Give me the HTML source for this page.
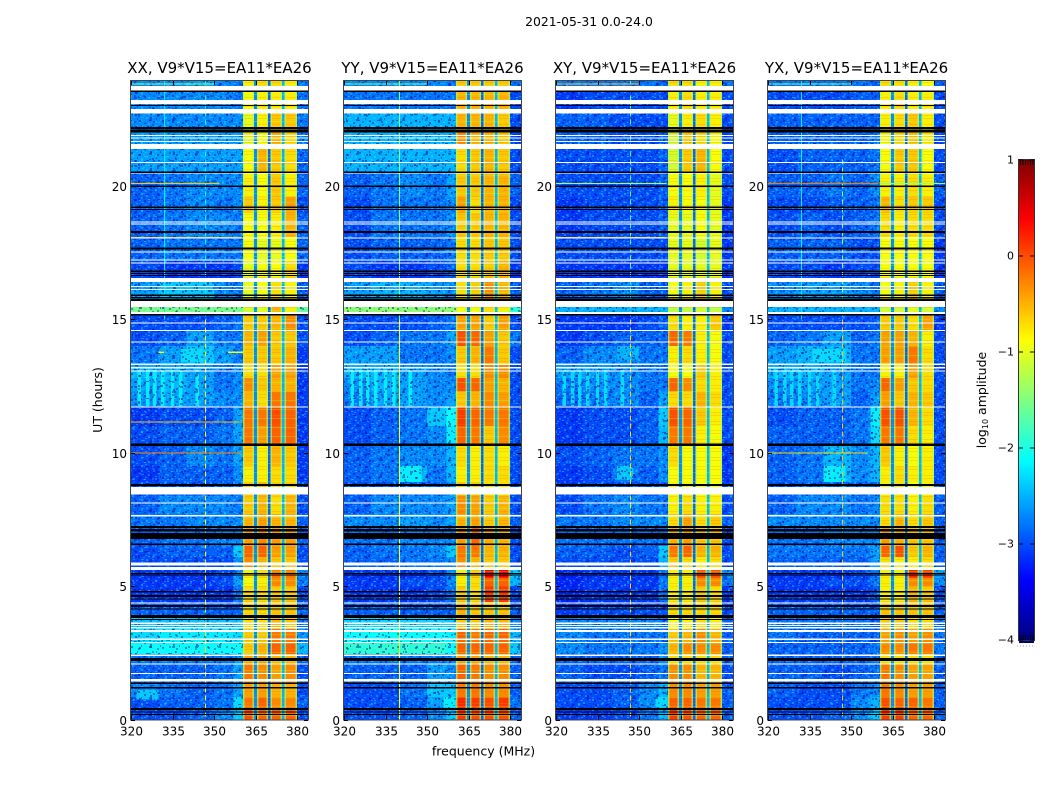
<!DOCTYPE html>
<html lang="en">
<head>
<meta charset="utf-8">
<title>2021-05-31 0.0-24.0</title>
<style>
html,body{margin:0;padding:0;background:#fff;}
svg{display:block;}
text{font-family:"DejaVu Sans","Liberation Sans",sans-serif;fill:#000;}
</style>
</head>
<body>
<svg id="figure" xmlns="http://www.w3.org/2000/svg" width="1050" height="800" viewBox="0 0 1050 800">
  <defs>
    <pattern id="speckle" width="23" height="17" patternUnits="userSpaceOnUse">
      <rect x="1" y="1" width="2" height="2" fill="#000a90" opacity=".55"/>
      <rect x="6" y="3" width="2" height="1" fill="#30e0ff" opacity=".55"/>
      <rect x="11" y="0" width="3" height="2" fill="#000a90" opacity=".45"/>
      <rect x="17" y="2" width="2" height="2" fill="#30e0ff" opacity=".4"/>
      <rect x="3" y="6" width="2" height="2" fill="#30e0ff" opacity=".45"/>
      <rect x="8" y="7" width="3" height="1" fill="#000a90" opacity=".55"/>
      <rect x="14" y="5" width="2" height="2" fill="#000a90" opacity=".4"/>
      <rect x="20" y="7" width="2" height="2" fill="#000a90" opacity=".55"/>
      <rect x="0" y="11" width="2" height="2" fill="#000a90" opacity=".5"/>
      <rect x="5" y="10" width="2" height="2" fill="#000a90" opacity=".35"/>
      <rect x="10" y="12" width="2" height="1" fill="#30e0ff" opacity=".55"/>
      <rect x="15" y="10" width="2" height="3" fill="#30e0ff" opacity=".3"/>
      <rect x="19" y="12" width="3" height="2" fill="#000a90" opacity=".45"/>
      <rect x="3" y="15" width="3" height="1" fill="#30e0ff" opacity=".4"/>
      <rect x="12" y="15" width="2" height="2" fill="#000a90" opacity=".5"/>
    </pattern>
    <pattern id="speckle-fine" width="19" height="13" patternUnits="userSpaceOnUse">
      <rect x="0" y="0" width="2" height="1" fill="#30e0ff" opacity=".35"/>
      <rect x="4" y="1" width="1" height="2" fill="#000a90" opacity=".45"/>
      <rect x="8" y="2" width="2" height="2" fill="#30e0ff" opacity=".3"/>
      <rect x="13" y="0" width="2" height="2" fill="#30e0ff" opacity=".4"/>
      <rect x="16" y="3" width="2" height="1" fill="#000a90" opacity=".45"/>
      <rect x="1" y="4" width="2" height="2" fill="#000a90" opacity=".4"/>
      <rect x="6" y="5" width="2" height="1" fill="#30e0ff" opacity=".45"/>
      <rect x="11" y="5" width="2" height="2" fill="#000a90" opacity=".45"/>
      <rect x="15" y="6" width="2" height="2" fill="#30e0ff" opacity=".35"/>
      <rect x="3" y="8" width="2" height="1" fill="#30e0ff" opacity=".4"/>
      <rect x="8" y="8" width="1" height="2" fill="#000a90" opacity=".5"/>
      <rect x="12" y="9" width="2" height="1" fill="#30e0ff" opacity=".4"/>
      <rect x="17" y="9" width="2" height="2" fill="#000a90" opacity=".4"/>
      <rect x="0" y="10" width="2" height="2" fill="#30e0ff" opacity=".3"/>
      <rect x="5" y="11" width="2" height="2" fill="#000a90" opacity=".4"/>
      <rect x="10" y="11" width="2" height="1" fill="#30e0ff" opacity=".35"/>
    </pattern>
    <pattern id="band-streak" width="4" height="9" patternUnits="userSpaceOnUse">
      <rect x="0" y="1" width="4" height="1" fill="#ff8000" opacity=".25"/>
      <rect x="0" y="4" width="4" height="1" fill="#c0ff40" opacity=".28"/>
      <rect x="0" y="7" width="4" height="1" fill="#ff5000" opacity=".18"/>
    </pattern>
  </defs>
  <text x="589" y="26" font-size="12.4" text-anchor="middle">2021-05-31 0.0-24.0</text>
  <text x="483.5" y="755.5" font-size="12.5" text-anchor="middle">frequency (MHz)</text>
  <text transform="translate(102,400) rotate(-90)" font-size="12.5" text-anchor="middle">UT (hours)</text>
  <text transform="translate(986,400) rotate(-90)" font-size="12.5" text-anchor="middle">log<tspan font-size="8" dy="2">10</tspan><tspan dy="-2"> amplitude</tspan></text>
  <g id="panels"></g>
  <g id="colorbar"></g>
</svg>
<script>
/* ---------- axis data ---------- */
const xTickValues = [320, 335, 350, 365, 380];
const yTickValues = [0, 5, 10, 15, 20];
const colorbarTickValues = [1, 0, -1, -2, -3, -4];
const colorMin = -4;
const colorMax = 1;
const panelTitles = ["XX, V9*V15=EA11*EA26", "YY, V9*V15=EA11*EA26", "XY, V9*V15=EA11*EA26", "YX, V9*V15=EA11*EA26"];

/* UT edges of the time blocks (hours) */
const rowEdges = [0,.45,.85,1.35,2.1,2.45,2.9,3.4,3.9,4.4,5,5.3,5.7,6.1,6.5,7.2,7.7,8.4,8.9,9.5,10.3,11,11.7,12.3,12.8,13.3,14,14.6,15.2,15.5,16.4,17.2,18.1,19,19.6,20.5,21.4,22.1,22.9,23.6,24];
/* frequency edges (MHz); narrow intervals are the spectral-window gaps */
const freqEdges = [320,330,340,350,357,360.5,364.5,365.5,369.5,370.5,374.5,375.5,380,384];
/* log10 amplitude x10 in the three gaps */
const gapLevels = [-27,-29,-25];
/* frequency ranges at spectral-window edges where the level rolls off */
const rolloffRanges = [[360.5,361],[364,364.5],[365.5,366],[369,369.5],[370.5,371],[374,374.5],[375.5,376],[379.5,380]];
const rolloffLevel = -13;

/* log10 amplitude x10: one row per time block, columns
   320-330, 330-340, 340-350, 350-357, 357-360.5, window 1-4, 380-384 */
const xxLevels = [
[-30,-30,-29,-27,-24,0,-1,-1,-1,-30],
[-30,-29,-29,-28,-23,-2,-1,-3,-3,-29],
[-27,-28,-29,-28,-26,-4,-4,-5,-5,-30],
[-29,-29,-29,-28,-26,-2,-3,-4,-3,-30],
[-28,-28,-28,-28,-26,-4,-4,-5,-5,-29],
[-21,-21,-21,-21,-21,-6,-5,-1,-1,-25],
[-23,-22,-22,-22,-23,-6,-6,-2,-2,-27],
[-24,-24,-24,-24,-24,-7,-7,-5,-6,-28],
[-29,-29,-29,-29,-29,-7,-7,-6,-6,-29],
[-31,-31,-31,-31,-28,-7,-7,-6,-6,-30],
[-31,-31,-31,-30,-26,-9,-8,-3,-3,-28],
[-31,-31,-31,-30,-27,-8,-7,-2,-2,-27],
[-30,-30,-30,-30,-27,-3,-5,-6,-6,-30],
[-30,-29,-29,-29,-24,-1,-1,-4,-4,-30],
[-29,-28,-28,-27,-27,-4,-3,-4,-4,-29],
[-28,-28,-27,-27,-27,-5,-4,-5,-5,-29],
[-29,-27,-27,-27,-28,-6,-5,-7,-5,-30],
[-30,-30,-30,-29,-28,-6,-5,-6,-6,-30],
[-31,-29,-29,-29,-27,-8,-8,-7,-7,-31],
[-30,-29,-27,-28,-26,-6,-8,-5,-6,-31],
[-30,-29,-29,-28,-26,-2,-4,-1,-1,-31],
[-31,-30,-30,-29,-26,-2,-2,0,-1,-31],
[-27,-26,-26,-27,-27,-5,-7,-2,-2,-31],
[-26,-25,-26,-28,-27,-3,-6,-5,-5,-31],
[-25,-25,-26,-28,-27,-7,-7,-4,-4,-31],
[-28,-26,-24,-26,-28,-6,-6,-6,-5,-31],
[-30,-29,-26,-28,-28,-5,-4,-6,-6,-30],
[-30,-30,-30,-29,-28,-6,-6,-5,-3,-30],
[-15,-15,-15,-15,-15,-11,-10,-5,-8,-16],
[-26,-24,-24,-27,-28,-10,-9,-7,-8,-29],
[-30,-31,-31,-31,-30,-10,-9,-9,-7,-31],
[-29,-28,-28,-28,-28,-9,-10,-10,-9,-29],
[-29,-28,-27,-27,-28,-9,-9,-8,-5,-29],
[-29,-28,-27,-28,-27,-6,-8,-6,-4,-30],
[-29,-28,-27,-27,-27,-8,-9,-6,-8,-29],
[-26,-26,-26,-26,-26,-9,-5,-6,-7,-29],
[-26,-26,-26,-26,-26,-10,-9,-5,-7,-28],
[-27,-27,-27,-27,-27,-10,-8,-6,-6,-28],
[-27,-27,-27,-27,-28,-9,-8,-8,-8,-28],
[-27,-27,-26,-27,-28,-8,-7,-7,-8,-28]
];
const yyLevels = [
[-30,-30,-29,-27,-24,1,0,0,0,-29],
[-30,-30,-29,-26,-22,2,1,0,1,-28],
[-30,-30,-28,-24,-24,-2,-2,-3,-3,-29],
[-29,-29,-29,-26,-27,-1,-2,-3,-3,-29],
[-28,-28,-28,-28,-27,-4,-4,-5,-5,-29],
[-19,-19,-19,-19,-21,-1,-1,-1,-1,-24],
[-21,-21,-21,-21,-22,-1,-2,-1,-1,-25],
[-23,-23,-23,-23,-24,-6,-6,-5,-5,-27],
[-29,-29,-29,-29,-29,-5,-6,-6,-6,-29],
[-31,-31,-31,-30,-28,-6,-7,1,1,-30],
[-31,-31,-30,-30,-27,-8,-7,-1,-1,-25],
[-31,-31,-31,-30,-27,-8,-6,4,4,-24],
[-29,-29,-28,-28,-27,-3,-5,-6,-6,-30],
[-29,-28,-28,-27,-24,-2,-2,-5,-5,-30],
[-28,-28,-27,-27,-27,-4,-1,-5,-5,-30],
[-27,-27,-26,-27,-26,-5,-4,-6,-5,-29],
[-29,-27,-27,-27,-26,-3,-4,-6,-5,-30],
[-30,-30,-29,-29,-27,-6,-6,-7,-7,-30],
[-29,-28,-25,-28,-25,-8,-8,-7,-7,-30],
[-29,-28,-27,-27,-25,-7,-8,-7,-8,-30],
[-30,-29,-28,-27,-22,-1,-2,-6,-3,-30],
[-30,-29,-28,-24,-21,1,-1,-2,-2,-30],
[-28,-26,-26,-27,-26,-6,-5,-3,-4,-30],
[-27,-25,-26,-27,-27,0,-1,-4,-5,-30],
[-25,-25,-26,-27,-28,-7,-7,-3,-3,-30],
[-26,-26,-28,-28,-27,-6,-5,-2,-6,-30],
[-30,-29,-28,-28,-26,0,-1,-4,-6,-28],
[-30,-30,-30,-29,-28,-4,-4,-6,-4,-30],
[-14,-14,-14,-14,-14,-9,-9,-7,-8,-19],
[-26,-25,-25,-26,-27,-7,-6,-3,-5,-29],
[-30,-31,-31,-30,-29,-7,-7,-6,-5,-31],
[-30,-29,-29,-29,-28,-7,-7,-6,-6,-30],
[-30,-28,-28,-28,-27,-6,-6,-5,-5,-30],
[-30,-28,-28,-28,-27,-4,-7,-5,-5,-30],
[-29,-28,-27,-28,-26,-6,-6,-5,-5,-29],
[-25,-25,-25,-25,-25,-7,-6,-5,-6,-30],
[-25,-25,-25,-25,-25,-3,-5,-5,-6,-30],
[-25,-25,-25,-25,-25,-5,-5,-5,-6,-30],
[-28,-28,-28,-28,-28,-5,-5,-5,-5,-30],
[-27,-27,-27,-27,-28,-6,-6,-6,-6,-28]
];
const xyLevels = [
[-31,-31,-30,-28,-25,1,0,-1,-1,-29],
[-30,-30,-29,-27,-24,-1,-1,-2,-2,-29],
[-30,-30,-29,-27,-25,-3,-3,-4,-4,-29],
[-29,-30,-30,-29,-28,-3,-3,-5,-5,-30],
[-29,-29,-29,-29,-27,-7,-7,-7,-7,-29],
[-27,-28,-28,-28,-27,-5,-3,-3,-3,-29],
[-27,-28,-28,-28,-28,-6,-5,-3,-5,-29],
[-27,-27,-27,-27,-28,-9,-8,-7,-8,-29],
[-31,-30,-30,-30,-30,-7,-7,-7,-7,-30],
[-32,-31,-31,-31,-28,-8,-8,-6,-7,-31],
[-32,-31,-31,-31,-28,-8,-8,-3,-3,-28],
[-32,-31,-31,-31,-28,-8,-8,0,0,-27],
[-30,-30,-30,-30,-25,-6,-7,-8,-7,-30],
[-29,-29,-30,-29,-24,-2,-1,-5,-5,-30],
[-28,-28,-28,-28,-28,-5,-4,-6,-6,-30],
[-28,-28,-27,-27,-27,-7,-4,-7,-6,-29],
[-30,-28,-27,-28,-28,-8,-7,-8,-8,-30],
[-31,-30,-30,-30,-29,-8,-8,-9,-9,-30],
[-31,-30,-28,-29,-27,-9,-9,-9,-9,-31],
[-30,-29,-28,-28,-27,-7,-9,-9,-9,-31],
[-31,-30,-30,-29,-25,-2,-2,-8,-9,-30],
[-31,-30,-30,-29,-24,0,-1,-6,-8,-30],
[-29,-28,-27,-29,-26,-7,-7,-5,-7,-30],
[-28,-27,-27,-28,-28,-1,-3,-7,-8,-30],
[-26,-26,-27,-28,-28,-9,-9,-6,-8,-30],
[-29,-27,-27,-28,-28,-8,-7,-8,-9,-30],
[-31,-30,-29,-29,-29,-1,-2,-8,-9,-30],
[-31,-31,-31,-30,-29,-7,-8,-8,-6,-31],
[-25,-25,-25,-25,-25,-12,-12,-11,-12,-27],
[-29,-28,-27,-29,-29,-9,-8,-6,-8,-30],
[-31,-31,-31,-31,-31,-10,-10,-10,-10,-31],
[-30,-30,-30,-30,-30,-10,-10,-11,-10,-31],
[-31,-30,-30,-30,-29,-10,-10,-9,-10,-31],
[-31,-30,-30,-30,-29,-8,-9,-9,-10,-31],
[-30,-30,-30,-30,-29,-9,-9,-8,-10,-30],
[-30,-30,-30,-30,-29,-11,-6,-5,-9,-30],
[-29,-29,-30,-30,-29,-11,-6,-7,-9,-30],
[-29,-29,-30,-30,-30,-10,-8,-7,-8,-30],
[-31,-30,-30,-30,-30,-8,-7,-8,-8,-30],
[-28,-28,-28,-28,-29,-7,-7,-8,-8,-28]
];
const yxLevels = [
[-30,-30,-29,-27,-24,1,1,-1,-1,-29],
[-30,-30,-30,-27,-25,0,-1,-1,-2,-29],
[-29,-30,-30,-28,-27,-2,-3,-4,-4,-29],
[-29,-29,-30,-29,-28,-2,-3,-4,-4,-29],
[-29,-29,-29,-29,-28,-7,-7,-7,-7,-29],
[-29,-29,-29,-29,-28,-3,-3,-2,-2,-28],
[-28,-29,-29,-29,-29,-4,-3,-4,-3,-28],
[-28,-28,-28,-28,-29,-6,-6,-7,-7,-28],
[-29,-29,-29,-29,-29,-6,-6,-6,-6,-29],
[-31,-31,-31,-31,-29,-8,-8,-5,-6,-30],
[-31,-31,-30,-30,-28,-8,-8,-3,-3,-27],
[-31,-31,-31,-30,-28,-8,-8,2,1,-26],
[-29,-29,-29,-29,-26,-7,-8,-8,-7,-29],
[-28,-28,-28,-28,-26,-1,0,-6,-5,-29],
[-28,-28,-27,-27,-27,-4,-5,-6,-6,-29],
[-27,-27,-27,-27,-27,-7,-5,-7,-6,-29],
[-29,-27,-27,-28,-27,-7,-7,-8,-7,-29],
[-30,-29,-29,-29,-29,-8,-7,-9,-8,-30],
[-29,-28,-25,-27,-25,-8,-7,-8,-8,-30],
[-29,-28,-25,-27,-25,-6,-8,-9,-8,-30],
[-29,-29,-29,-28,-23,-2,-2,-7,-8,-30],
[-30,-29,-29,-28,-22,0,0,-5,-7,-30],
[-28,-27,-26,-29,-26,-4,-6,-5,-6,-30],
[-27,-26,-26,-28,-27,-1,-4,-6,-7,-30],
[-25,-25,-26,-28,-28,-8,-8,-4,-7,-30],
[-26,-25,-25,-28,-28,-4,-4,-2,-7,-30],
[-29,-28,-26,-29,-28,-4,-4,-5,-8,-30],
[-30,-30,-30,-30,-29,-6,-6,-7,-4,-31],
[-25,-25,-25,-25,-25,-11,-11,-10,-11,-27],
[-27,-26,-26,-27,-28,-9,-8,-6,-8,-29],
[-30,-30,-31,-30,-30,-9,-9,-9,-9,-31],
[-29,-29,-29,-30,-30,-9,-9,-9,-9,-31],
[-30,-29,-30,-29,-28,-7,-8,-7,-7,-30],
[-30,-30,-29,-29,-28,-5,-7,-6,-6,-30],
[-29,-29,-28,-29,-27,-8,-8,-7,-8,-29],
[-30,-29,-29,-29,-28,-9,-6,-6,-9,-30],
[-29,-29,-29,-29,-28,-9,-7,-6,-8,-30],
[-29,-29,-29,-29,-29,-8,-7,-6,-8,-30],
[-30,-30,-30,-29,-29,-8,-7,-8,-8,-30],
[-28,-28,-28,-28,-29,-7,-7,-8,-9,-29]
];
const panelLevels = [xxLevels, yyLevels, xyLevels, yxLevels];

/* flagged time ranges, UT hours */
const whiteFlags = [[23.58,23.76],[23.07,23.23],[22.73,22.90],[21.88,21.92],[21.78,21.82],[21.66,21.69],[21.40,21.58],[20.87,20.91],[20.45,20.48],[18.63,18.67],[18.56,18.60],[18.04,18.08],[17.51,17.55],[17.21,17.25],[17.10,17.14],[16.40,16.55],[16.21,16.25],[16.11,16.15],[15.46,15.70],[15.20,15.28],[14.84,14.88],[14.56,14.60],[14.13,14.17],[13.30,13.34],[13.17,13.21],[13.04,13.08],[11.70,11.74],[8.44,8.71],[8.09,8.13],[7.62,7.66],[5.77,5.89],[5.61,5.71],[4.35,4.39],[3.59,3.63],[3.50,3.54],[3.42,3.46],[3.29,3.36],[2.99,3.03],[2.86,2.90],[2.39,2.43],[2.06,2.10],[1.70,1.74],[1.43,1.52]];
const blackFlags = [[23.53,23.58],[23.0,23.05],[22.13,22.22],[22.01,22.10],[20.49,20.54],[19.96,20.02],[19.18,19.23],[19.10,19.14],[18.25,18.31],[17.63,17.69],[16.78,16.84],[16.70,16.75],[16.62,16.67],[15.87,15.93],[15.80,15.85],[15.70,15.78],[15.15,15.20],[10.26,10.34],[8.76,8.83],[7.18,7.26],[7.05,7.14],[6.77,6.99],[6.55,6.60],[5.46,5.50],[5.40,5.44],[4.76,4.82],[4.59,4.67],[4.50,4.54],[4.22,4.29],[4.13,4.17],[3.81,3.92],[3.73,3.77],[2.20,2.31],[1.33,1.38],[1.16,1.21],[.36,.43],[.26,.30],[.16,.20]];

/* brighter patches: panel, ut0, ut1, f0, f1, level x10 */
const emissionPatches = [
[1,8.9,9.5,340,348,-22],[3,8.9,9.5,340,348,-22],[2,9,9.5,342,348,-24],
[0,.75,1.1,322,330,-24],[1,.45,.85,356,360.5,-22],[2,.45,.85,356,360.5,-23],
[0,13.4,13.9,338,346,-23],[2,13.5,14,342,350,-25],[3,13.4,13.9,336,348,-23]
];
/* vertical fringes in 11.75-13.1 UT: centre frequency (MHz) and per-panel level x10 */
const fringeFreqs = [323,326,328.6,331.5,335,338,344];
const fringeLevels = [-22,-22,-23,-23];
const fringeStartUT = 11.75;
const fringeEndUT = 13.1;

/* bad channels: panel, freq, ut0, ut1, level x10, dashed(1/0) */
const channelLines = [
[0,346.9,0,15,-8,1],[0,346.9,15,24,-21,1],[0,332,15,24,-22,0],
[1,339.9,0,15,-9,0],[1,339.9,15,24,-15,0],
[2,346.7,0,15,-7,1],[2,346.7,15,24,-17,1],
[3,346.9,0,15,-6,1],[3,346.9,15,21,-14,1],[3,332,15,24,-22,0]
];
/* narrow-band hot time samples: panel, ut, f0, f1, level x10 */
const hotLines = [
[0,23.83,320,350,-13],[0,20.1,320,352,-6],[0,18.07,320,360,-5],[0,11.15,320,360,-6],[0,10,320,360,-3],[0,13.77,355,360.5,-9],[0,13.77,330,332,-9],
[1,23.83,320,350,-15],
[2,23.83,320,350,-6],[2,20.1,320,360,-13],[2,18.07,320,360,-6],
[3,23.83,320,350,-15],[3,20.1,320,360,-2],[3,20.1,360.5,384,-14],[3,10,320,356,-7]
];

/* ---------- scales ---------- */
const panelLefts = [131, 344, 556, 768];
const panelWidth = 177;
const panelTop = 81;
const panelBottom = 719.5;
const SVG_NS = "http://www.w3.org/2000/svg";
function xScale(p, f) { return panelLefts[p] + (f - 320) * 2.767; }
function yScale(ut) { return panelBottom - ut * 26.67; }
function cbarY(v) { return 160 + (colorMax - v) * 96; }
function clip01(v) { return Math.max(0, Math.min(1, v)); }
function jet(v) {
  const t = clip01((v - colorMin) / (colorMax - colorMin));
  const r = clip01(1.5 - Math.abs(4 * t - 3));
  const g = clip01(1.5 - Math.abs(4 * t - 2));
  const b = clip01(1.5 - Math.abs(4 * t - 1));
  return "rgb(" + Math.round(r * 255) + "," + Math.round(g * 255) + "," + Math.round(b * 255) + ")";
}
function make(tag, parent, attrs) {
  const el = document.createElementNS(SVG_NS, tag);
  for (const k in attrs) el.setAttribute(k, attrs[k]);
  parent.appendChild(el);
  return el;
}
function box(parent, x0, x1, y0, y1, fill) {
  return make("rect", parent, { x: x0, y: y0, width: x1 - x0, height: y1 - y0, fill: fill, "shape-rendering": "crispEdges" });
}

/* ---------- panels ---------- */
const panelsRoot = document.getElementById("panels");
const columnSource = [0, 1, 2, 3, 4, 5, "g0", 6, "g1", 7, "g2", 8, 9];

panelTitles.forEach(function (title, p) {
  const g = make("g", panelsRoot, {});
  
  

  const clip = make("clipPath", g, { id: "clip" + p });
  make("rect", clip, { x: panelLefts[p], y: panelTop, width: panelWidth, height: panelBottom - panelTop });
  const plot = make("g", g, { "clip-path": "url(#clip" + p + ")" });

  const levels = panelLevels[p];
  rowEdges.slice(0, -1).forEach(function (ut0, r) {
    const ut1 = rowEdges[r + 1];
    columnSource.forEach(function (src, c) {
      const v = typeof src === "number" ? levels[r][src] : gapLevels[+String(src).slice(1)];
      const cell = box(plot, xScale(p, freqEdges[c]), xScale(p, freqEdges[c + 1]), yScale(ut1), yScale(ut0), jet(v / 10));
      
      
    });
  });

  const streak = box(plot, xScale(p, 360.5), xScale(p, 380), panelTop, panelBottom, "url(#band-streak)");
  
  

  rolloffRanges.forEach(function (rng) {
    const edge = box(plot, xScale(p, rng[0]), xScale(p, rng[1]), panelTop, panelBottom, jet(rolloffLevel / 10));
    edge.setAttribute('opacity', '0.7');
    
    
  });

  fringeFreqs.forEach(function (f) {
    const s = box(plot, xScale(p, f - .6), xScale(p, f + .6), yScale(fringeEndUT), yScale(fringeStartUT), jet(fringeLevels[p] / 10));
    
    
  });

  emissionPatches.filter(function (e) { return e[0] === p; }).forEach(function (e) {
    const patch = box(plot, xScale(p, e[3]), xScale(p, e[4]), yScale(e[2]), yScale(e[1]), jet(e[5] / 10));
    
    
  });

  ["speckle", "speckle-fine"].forEach(function (patternId) {
    const tex1 = box(plot, xScale(p, 320), xScale(p, 360.5), panelTop, panelBottom, "url(#" + patternId + ")");
    
    
    const tex2 = box(plot, xScale(p, 380), xScale(p, 384), panelTop, panelBottom, "url(#" + patternId + ")");
    
    
  });

  channelLines.filter(function (l) { return l[0] === p; }).forEach(function (l) {
    const ln = make("line", plot, {
      x1: Math.round(xScale(p, l[1])) + .5, x2: Math.round(xScale(p, l[1])) + .5,
      y1: yScale(l[3]), y2: yScale(l[2]),
      stroke: jet(l[4] / 10), "stroke-width": 1, "stroke-dasharray": l[5] ? "5 3" : "none"
    });
    
    
  });

  hotLines.filter(function (l) { return l[0] === p; }).forEach(function (l) {
    const hot = box(plot, xScale(p, l[2]), xScale(p, l[3]), yScale(l[1] + .02), yScale(l[1] - .02), jet(l[4] / 10));
    
    
  });

  whiteFlags.forEach(function (f) {
    const w = box(plot, panelLefts[p], panelLefts[p] + panelWidth, yScale(f[1]), yScale(f[0]), "#fff");
    
    
  });
  blackFlags.forEach(function (f) {
    const b = box(plot, panelLefts[p], panelLefts[p] + panelWidth, yScale(f[1]), yScale(f[0]), "#000");
    
    
  });

  const frame = make("rect", g, { x: panelLefts[p] - .5, y: panelTop - .5, width: panelWidth + 1, height: panelBottom - panelTop + 1, fill: "none", stroke: "#444", "stroke-width": 1 });
  
  

  xTickValues.forEach(function (f) {
    const x = Math.round(xScale(p, f)) + .5;
    const tb = make("line", g, { x1: x, x2: x, y1: panelBottom, y2: panelBottom - 4, stroke: "#000", "stroke-width": 1 });
    
    
    const tt = make("line", g, { x1: x, x2: x, y1: panelTop, y2: panelTop + 4, stroke: "#000", "stroke-width": 1 });
    
    
    const lab = make("text", g, { x: x, y: 735.5, "font-size": 12, "text-anchor": "middle" });
    lab.textContent = f;
    
    
  });

  yTickValues.forEach(function (u) {
    const y = Math.round(yScale(u)) + .5;
    const tl = make("line", g, { x1: panelLefts[p], x2: panelLefts[p] + 4, y1: y, y2: y, stroke: "#000", "stroke-width": 1 });
    
    
    const tr = make("line", g, { x1: panelLefts[p] + panelWidth, x2: panelLefts[p] + panelWidth - 4, y1: y, y2: y, stroke: "#000", "stroke-width": 1 });
    
    
    const lab = make("text", g, { x: panelLefts[p] - 4, y: y + 4.5, "font-size": 12, "text-anchor": "end" });
    lab.textContent = u;
    
    
  });

  const t = make("text", g, { x: panelLefts[p] + panelWidth / 2, y: 73, "font-size": 15, "text-anchor": "middle" });
  t.textContent = title;
  
  
});

/* ---------- colorbar ---------- */
const cbarRoot = document.getElementById("colorbar");
const cbarLeft = 1019;
const cbarRight = 1034;
const swatchStep = 0.025;
for (let v = colorMax; v > colorMin; v -= swatchStep) {
  const sw = box(cbarRoot, cbarLeft, cbarRight, cbarY(v), cbarY(v - swatchStep) + .5, jet(v - swatchStep / 2));
  
  
}
const cbarFrame = make("rect", cbarRoot, { x: cbarLeft - .5, y: 159.5, width: cbarRight - cbarLeft + 1, height: 481, fill: "none", stroke: "#333", "stroke-width": 1 });


for (let x = cbarLeft + 1.5; x < cbarRight; x += 2.5) {
  const ft = make("line", cbarRoot, { x1: x, x2: x, y1: 160, y2: 165, stroke: "#000", "stroke-width": .8 });
  
  
  const fb = make("line", cbarRoot, { x1: x, x2: x, y1: 635, y2: 640, stroke: "#000", "stroke-width": .8 });
  
  
}
colorbarTickValues.forEach(function (v) {
  const y = cbarY(v);
  const t1 = make("line", cbarRoot, { x1: cbarLeft, x2: cbarLeft + 4, y1: y, y2: y, stroke: "#000", "stroke-width": 1 });
  
  
  const t2 = make("line", cbarRoot, { x1: cbarRight - 4, x2: cbarRight, y1: y, y2: y, stroke: "#000", "stroke-width": 1 });
  
  
  const lab = make("text", cbarRoot, { x: 1014, y: y + 3.5, "font-size": 11, "text-anchor": "end" });
  lab.textContent = String(v).replace("-", "\u2212");
  
  
});
const dots = make("line", cbarRoot, { x1: 1017, x2: 1035, y1: 646, y2: 646, stroke: "#999", "stroke-width": 1, "stroke-dasharray": "1 2" });


</script>
</body>
</html>
